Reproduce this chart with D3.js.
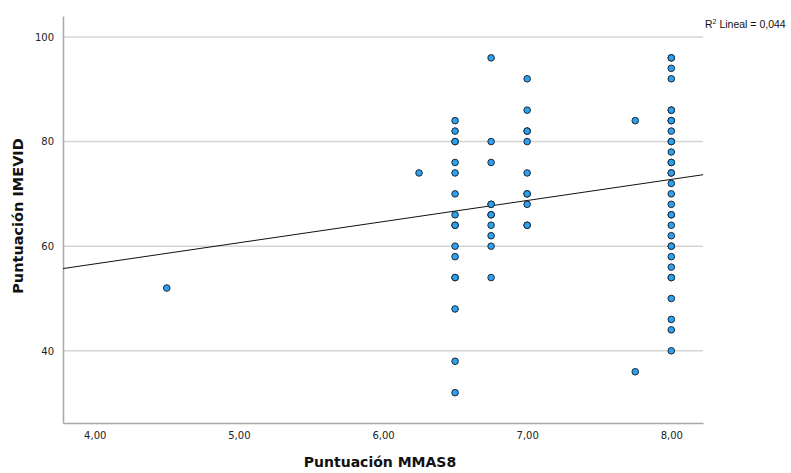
<html>
<head>
    <title>Puntuación MMAS8 vs IMEVID</title>
    <style type="text/css">
        body{
            margin: 0;
            background-color: #fff;
        }
        .axis path, .axis line{
            stroke: #a8a8a8;
        }
        .axis text{
            fill: #222;
            font-family: "DejaVu Sans", sans-serif;
            font-size: 10px;
        }
        .grid line{
            stroke: #d4d4d4;
            stroke-width: 1.5px;
        }
        .dot{
            fill: #2ba1ef;
            stroke: #1b2a36;
            stroke-width: 1px;
        }
        .title{
            font-family: "DejaVu Sans", sans-serif;
            font-weight: bold;
            font-size: 14px;
            fill: #111;
        }
    </style>
    <script type="text/javascript" src="https://cdn.jsdelivr.net/npm/d3@7/dist/d3.min.js"></script>
</head>
<body>
    <div id="chart"></div>
    <script type="text/javascript">
        var width = 791, height = 473;
        var plotLeft = 63, plotRight = 703, plotTop = 16, plotBottom = 423;

        // MMAS8 score columns and the IMEVID scores read for each one
        var mmas = [4.5, 6.25, 6.5, 6.75, 7, 7.75, 8];
        var imevid = [
            [52],
            [74],
            [84, 82, 80, 80, 76, 74, 70, 66, 64, 64, 60, 58, 54, 54, 48, 38, 32],
            [96, 80, 76, 68, 68, 66, 66, 64, 62, 60, 54],
            [92, 86, 82, 82, 80, 74, 70, 70, 68, 64, 64],
            [84, 36],
            [96, 96, 94, 92, 86, 86, 84, 84, 82, 80, 80, 78, 76, 76, 74, 74, 72, 70, 68, 66, 66, 64, 62, 60, 60, 58, 56, 54, 54, 50, 46, 44, 40]
        ];
        var xTicks = [4, 5, 6, 7, 8];
        var yTicks = [40, 60, 80, 100];
        var fit = {intercept: 40.45, slope: 4.04};
        var r2Label = 'Lineal = 0,044';

        var data = [];
        mmas.forEach(function(m, i){
            imevid[i].forEach(function(v){
                data.push({x: m, y: v});
            });
        });

        var svg = d3.select('#chart')
            .append('svg')
            .attr('width', width)
            .attr('height', height);

        var xScale = d3.scaleLinear()
            .domain([3.78, 8.22])
            .range([plotLeft, plotRight]);

        var yScale = d3.scaleLinear()
            .domain([26.2, 104])
            .range([plotBottom, plotTop]);

        // horizontal gridlines
        svg.append('g')
            .attr('class', 'grid')
            .selectAll('line')
            .data(yTicks)
            .enter()
            .append('line')
            .attr('x1', plotLeft)
            .attr('x2', plotRight)
            .attr('y1', function(d){ return yScale(d); })
            .attr('y2', function(d){ return yScale(d); });

        var fmt = function(d){ return d3.format('.2f')(d).replace('.', ','); };

        var xAxis = d3.axisBottom(xScale).tickValues(xTicks).tickSize(0).tickPadding(9).tickFormat(fmt);
        var yAxis = d3.axisLeft(yScale).tickValues(yTicks).tickSize(0).tickPadding(9);

        svg.append('g')
            .attr('class', 'axis')
            .attr('transform', 'translate(0,' + plotBottom + ')')
            .call(xAxis)
            .select('.domain').attr('stroke-width', 1.5);

        svg.append('g')
            .attr('class', 'axis')
            .attr('transform', 'translate(' + plotLeft + ',0)')
            .call(yAxis)
            .select('.domain').attr('stroke-width', 1.5);

        // fit line
        var xd = xScale.domain();
        svg.append('line')
            .attr('x1', xScale(xd[0]))
            .attr('y1', yScale(fit.intercept + fit.slope * xd[0]))
            .attr('x2', xScale(xd[1]))
            .attr('y2', yScale(fit.intercept + fit.slope * xd[1]))
            .attr('stroke', '#111')
            .attr('stroke-width', 1);

        svg.selectAll('.dot')
            .data(data)
            .enter()
            .append('circle')
            .attr('class', 'dot')
            .attr('cx', function(d){ return xScale(d.x); })
            .attr('cy', function(d){ return yScale(d.y); })
            .attr('r', 3.3);

        // R² label
        var lab = svg.append('text')
            .attr('x', 705)
            .attr('y', 28)
            .style('font-family', '"Liberation Sans", sans-serif')
            .style('font-size', '10.5px')
            .style('fill', '#111');
        lab.append('tspan').text('R');
        lab.append('tspan').attr('dy', -4).style('font-size', '7px').text('2');
        lab.append('tspan').attr('dy', 4).text(' ' + r2Label);

        svg.append('text')
            .attr('class', 'title')
            .attr('x', 380)
            .attr('y', 467)
            .attr('text-anchor', 'middle')
            .text('Puntuación MMAS8');

        svg.append('text')
            .attr('class', 'title')
            .attr('transform', 'translate(23,216) rotate(-90)')
            .style('font-size', '14.5px')
            .attr('text-anchor', 'middle')
            .text('Puntuación IMEVID');
    </script>
</body>
</html>
